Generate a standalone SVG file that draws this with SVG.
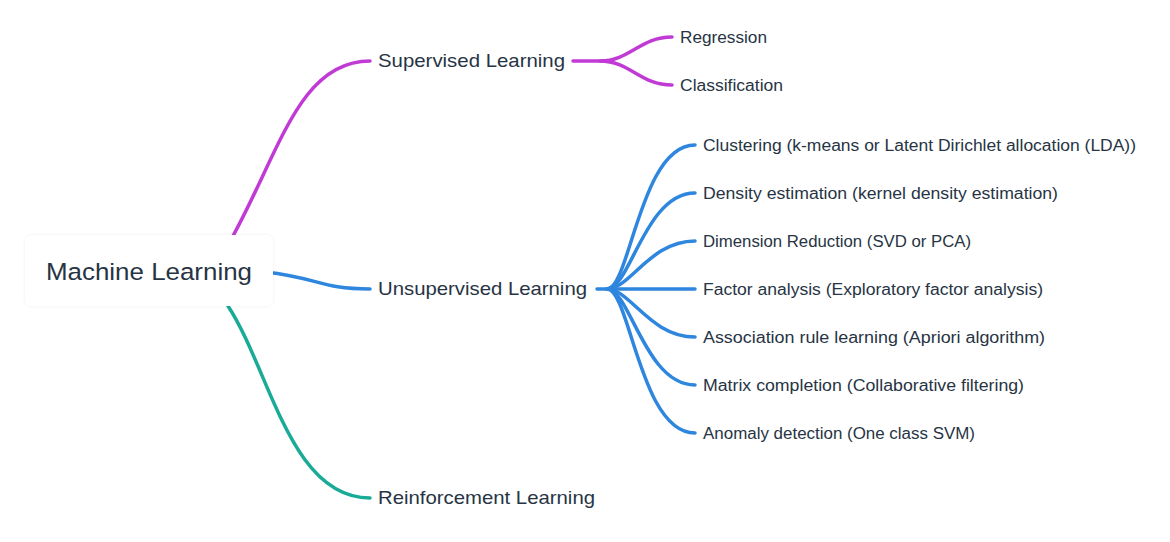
<svg xmlns="http://www.w3.org/2000/svg" width="1170" height="542" viewBox="0 0 1170 542">
<defs>
<filter id="sh" x="-10%" y="-30%" width="120%" height="160%">
<feDropShadow dx="0" dy="0" stdDeviation="1.5" flood-color="#000" flood-opacity="0.08"/>
</filter>
<style>
.l{fill:none;stroke-width:3.5;stroke-linecap:round}
.p{stroke:#c13ad6}
.b{stroke:#2e86de}
.g{stroke:#1aaa98}
text{font-family:"Liberation Sans","Noto Sans",Arial,sans-serif;fill:#273444}
.t1{font-size:18.5px}
.t2{font-size:16px}
.t0{font-size:24.5px}
</style>
</defs>
<rect width="1170" height="542" fill="#fff"/>
<g id="connectors">
<path class="l p" d="M233,236 C280,150 300,61 370,61"/>
<path class="l b" d="M265,272 C320,278 320,289 370,289"/>
<path class="l g" d="M228,306 C270,370 290,498 370,498"/>
<path class="l p" d="M573,61 L600,61 C630,61 640,37 672,37"/>
<path class="l p" d="M600,61 C630,61 640,85 672,85"/>
<path class="l b" d="M597,289 L607,289 C630,289 640,145 695,145"/>
<path class="l b" d="M607,289 C630,289 645,193 695,193"/>
<path class="l b" d="M607,289 C630,289 650,241 695,241"/>
<path class="l b" d="M607,289 L695,289"/>
<path class="l b" d="M607,289 C630,289 650,337 695,337"/>
<path class="l b" d="M607,289 C630,289 645,385 695,385"/>
<path class="l b" d="M607,289 C630,289 640,433 695,433"/>
</g>
<g id="root">
<rect x="25" y="235" width="248" height="71" rx="7" fill="#fff" filter="url(#sh)"/>
<text class="t0" x="46" y="280" textLength="206" lengthAdjust="spacingAndGlyphs">Machine Learning</text>
</g>
<g id="supervised"><text class="t1" x="378" y="67" textLength="187" lengthAdjust="spacingAndGlyphs">Supervised Learning</text></g>
<g id="unsupervised"><text class="t1" x="378" y="295" textLength="209" lengthAdjust="spacingAndGlyphs">Unsupervised Learning</text></g>
<g id="reinforcement"><text class="t1" x="378" y="504" textLength="217" lengthAdjust="spacingAndGlyphs">Reinforcement Learning</text></g>
<g id="regression"><text class="t2" x="680" y="43" textLength="87" lengthAdjust="spacingAndGlyphs">Regression</text></g>
<g id="classification"><text class="t2" x="680" y="91" textLength="103" lengthAdjust="spacingAndGlyphs">Classification</text></g>
<g id="clustering"><text class="t2" x="703" y="151" textLength="433" lengthAdjust="spacingAndGlyphs">Clustering (k-means or Latent Dirichlet allocation (LDA))</text></g>
<g id="density"><text class="t2" x="703" y="199" textLength="355" lengthAdjust="spacingAndGlyphs">Density estimation (kernel density estimation)</text></g>
<g id="dimension"><text class="t2" x="703" y="247" textLength="268" lengthAdjust="spacingAndGlyphs">Dimension Reduction (SVD or PCA)</text></g>
<g id="factor"><text class="t2" x="703" y="295" textLength="340" lengthAdjust="spacingAndGlyphs">Factor analysis (Exploratory factor analysis)</text></g>
<g id="association"><text class="t2" x="703" y="343" textLength="342" lengthAdjust="spacingAndGlyphs">Association rule learning (Apriori algorithm)</text></g>
<g id="matrix"><text class="t2" x="703" y="391" textLength="321" lengthAdjust="spacingAndGlyphs">Matrix completion (Collaborative filtering)</text></g>
<g id="anomaly"><text class="t2" x="703" y="439" textLength="272" lengthAdjust="spacingAndGlyphs">Anomaly detection (One class SVM)</text></g>
</svg>
